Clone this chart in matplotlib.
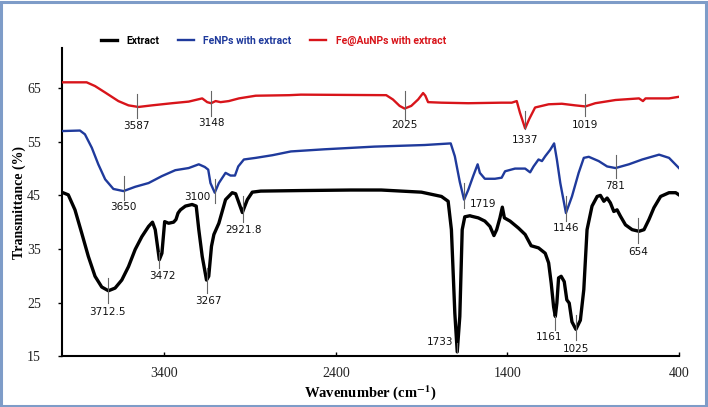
import numpy as np
import matplotlib
matplotlib.use("Agg")
from matplotlib import pyplot as plt
from matplotlib.patches import Rectangle

# FTIR spectra (wavenumber in cm-1, transmittance in %)
extract_wn = [4000, 3961, 3922, 3883, 3844, 3805, 3766, 3727, 3688, 3649, 3610, 3571, 3532,
              3493, 3470, 3454, 3430, 3415, 3399, 3376, 3347, 3333, 3321, 3307, 3278, 3239,
              3215, 3200, 3180, 3155, 3142, 3126, 3112, 3083, 3044, 3005, 2985, 2946, 2917,
              2888, 2839, 2605, 2312, 2136, 1902, 1785, 1746, 1727, 1707, 1693, 1678, 1664,
              1649, 1619, 1609, 1570, 1532, 1502, 1479, 1463, 1444, 1430, 1418, 1385, 1336,
              1297, 1262, 1219, 1180, 1160, 1145, 1131, 1121, 1112, 1102, 1087, 1069, 1054,
              1040, 1024, 1001, 975, 955, 936, 907, 877, 858, 838, 819, 800, 780, 761, 741,
              712, 673, 633, 604, 575, 546, 507, 458, 419, 400]
extract_t = [45.6, 45.1, 42.3, 38.0, 33.6, 29.9, 27.9, 27.2, 27.7, 29.2, 31.7, 34.9, 37.3,
             39.2, 40.0, 38.6, 33.0, 34.2, 40.1, 39.8, 40.0, 40.5, 41.7, 42.3, 43.0, 43.3,
             43.0, 38.6, 33.6, 29.2, 29.9, 35.5, 37.7, 39.8, 44.2, 45.5, 45.3, 41.8, 44.2,
             45.6, 45.8, 45.9, 46.0, 46.0, 45.6, 44.8, 43.9, 38.6, 23.0, 15.8, 22.4, 38.6,
             41.0, 41.2, 41.1, 40.8, 40.2, 39.2, 37.5, 38.6, 40.8, 42.8, 40.8, 40.2, 38.9,
             37.7, 35.6, 35.2, 34.2, 32.4, 28.6, 24.2, 22.4, 24.9, 29.6, 29.9, 28.9, 25.5,
             24.9, 21.4, 20.0, 21.7, 27.4, 38.6, 43.0, 44.8, 45.0, 43.9, 44.5, 43.6, 42.0,
             42.3, 41.1, 39.5, 38.6, 38.3, 38.6, 40.5, 42.7, 44.8, 45.5, 45.5, 45.1]

fenp_wn = [4000, 3893, 3864, 3824, 3786, 3746, 3698, 3639, 3571, 3493, 3415, 3337, 3259,
           3200, 3165, 3145, 3132, 3107, 3083, 3044, 3015, 2989, 2970, 2937, 2868, 2770,
           2663, 2468, 2176, 1883, 1731, 1707, 1678, 1653, 1629, 1600, 1574, 1561, 1532,
           1473, 1434, 1414, 1356, 1297, 1268, 1248, 1219, 1199, 1180, 1151, 1128, 1112,
           1092, 1059, 1024, 985, 955, 926, 868, 819, 770, 692, 614, 516, 458, 400]
fenp_t = [57.0, 57.1, 56.4, 53.9, 50.8, 48.0, 46.2, 45.8, 46.6, 47.3, 48.6, 49.7, 50.1,
          50.8, 50.3, 49.8, 47.3, 45.5, 47.3, 49.2, 48.7, 48.7, 50.4, 51.7, 52.0, 52.5,
          53.2, 53.6, 54.1, 54.4, 54.7, 52.3, 47.5, 44.2, 46.0, 48.6, 50.8, 49.2, 48.1,
          48.1, 48.3, 49.5, 50.0, 50.0, 49.3, 50.4, 51.7, 51.4, 52.3, 53.5, 54.7, 51.7,
          47.3, 41.7, 44.8, 49.2, 52.0, 52.2, 51.4, 50.4, 50.1, 50.8, 51.7, 52.6, 52.0, 50.1]

feau_wn = [4000, 3854, 3805, 3746, 3669, 3610, 3552, 3473, 3356, 3259, 3180, 3151, 3128,
           3102, 3073, 3025, 2966, 2868, 2673, 2605, 2107, 2068, 2029, 2000, 1961, 1921,
           1892, 1879, 1863, 1785, 1629, 1434, 1375, 1346, 1327, 1297, 1274, 1239, 1160,
           1083, 1005, 946, 888, 770, 633, 610, 595, 458, 400]
feau_t = [66.1, 66.1, 65.4, 64.2, 62.6, 61.8, 61.5, 61.8, 62.2, 62.5, 63.1, 62.4, 62.2,
          62.6, 62.4, 62.6, 63.1, 63.6, 63.7, 63.8, 63.7, 62.9, 61.7, 61.2, 61.7, 62.9,
          64.1, 63.6, 62.4, 62.3, 62.2, 62.3, 62.3, 62.6, 60.4, 57.5, 59.2, 61.4, 62.0,
          62.1, 61.8, 61.6, 62.2, 62.8, 63.1, 62.6, 63.1, 63.1, 63.4]

series_names = ["Extract", "FeNPs with extract", "Fe@AuNPs with extract"]
colors = ["#000000", "#1f3a9c", "#d8141a"]

# peak marks: label text, position, tick extent, label anchor
peaks = [
    ("3587", 3561, 63.9, 59.5, 3561, 58.0, "center"),
    ("3148", 3128, 64.5, 59.8, 3128, 58.6, "center"),
    ("2025", 2000, 64.5, 59.2, 2000, 58.1, "center"),
    ("1337", 1297, 60.7, 57.3, 1297, 55.4, "center"),
    ("1019", 946, 63.9, 59.8, 946, 58.1, "center"),
    ("3650", 3639, 48.6, 44.2, 3639, 42.8, "center"),
    ("3100", 3107, 48.0, 43.6, 3135, 44.7, "right"),
    ("1719", 1652, 47.3, 42.7, 1620, 43.3, "left"),
    ("1146", 1057, 44.8, 40.2, 1057, 38.9, "center"),
    ("781", 770, 52.6, 48.3, 770, 46.7, "center"),
    ("3712.5", 3731, 29.5, 24.9, 3731, 23.3, "center"),
    ("3472", 3430, 34.5, 31.4, 3411, 29.9, "center"),
    ("3267", 3155, 31.4, 26.7, 3142, 25.2, "center"),
    ("2921.8", 2943, 44.8, 40.0, 2937, 38.5, "center"),
    ("1733", 1693, 17.5, 15.8, 1716, 17.6, "right"),
    ("1161", 1121, 22.4, 19.9, 1160, 18.6, "center"),
    ("1025", 1001, 22.7, 18.0, 1001, 16.4, "center"),
    ("654", 637, 40.8, 36.1, 637, 34.5, "center"),
]

plt.rcParams["mathtext.fontset"] = "stix"
fig = plt.figure(figsize=(7.08, 4.07), dpi=100)
ax = fig.add_axes([0.087, 0.125, 0.872, 0.757])

ax.plot(extract_wn, extract_t, color=colors[0], lw=2.4, label=series_names[0], zorder=3)
ax.plot(fenp_wn, fenp_t, color=colors[1], lw=1.7, label=series_names[1], zorder=3)
ax.plot(feau_wn, feau_t, color=colors[2], lw=1.7, label=series_names[2], zorder=3)

for text, x, ytop, ybot, lx, ly, ha in peaks:
    ax.plot([x, x], [ybot, ytop], color="#666666", lw=0.8, zorder=4)
    ax.text(lx, ly, text, ha=ha, va="center", fontsize=7.5, family="DejaVu Sans",
            color="#111111", zorder=5)

ax.set_xlim(4000, 400)
ax.set_ylim(15, 72.5)
ax.set_xticks([3400, 2400, 1400, 400])
ax.set_yticks([15, 25, 35, 45, 55, 65])
ax.tick_params(axis="x", direction="in", length=3, width=1, pad=8)
ax.tick_params(axis="y", direction="out", length=3, width=1, pad=12)
for lab in ax.get_xticklabels() + ax.get_yticklabels():
    lab.set_family("Liberation Serif")
    lab.set_fontsize(10)
    lab.set_color("#222222")
ax.spines["top"].set_visible(False)
ax.spines["right"].set_visible(False)
ax.spines["left"].set_linewidth(1.5)
ax.spines["bottom"].set_linewidth(1.5)

ax.set_xlabel(r"Wavenumber (cm$^{\mathbf{-1}}$)", family="Liberation Serif",
              fontweight="bold", fontsize=10.5)
ax.xaxis.set_label_coords(0.5, -0.088)
ax.set_ylabel("Transmittance (%)", family="Liberation Serif", fontweight="bold",
              fontsize=10)
ax.yaxis.set_label_coords(-0.058, 0.5)

leg = fig.legend(loc="center", bbox_to_anchor=(0.386, 0.9), ncol=3, frameon=False,
                 handlelength=1.55, columnspacing=1.8, handletextpad=0.9,
                 prop={"family": "Roboto", "weight": "bold", "size": 7.5})
for txt, c in zip(leg.get_texts(), colors):
    txt.set_color(c)

fig.patches.append(Rectangle((0.002, 0.003), 0.995, 0.993, transform=fig.transFigure,
                             fill=False, edgecolor="#7e9cc8", lw=2.2))

fig.savefig("out.png", dpi=100)
